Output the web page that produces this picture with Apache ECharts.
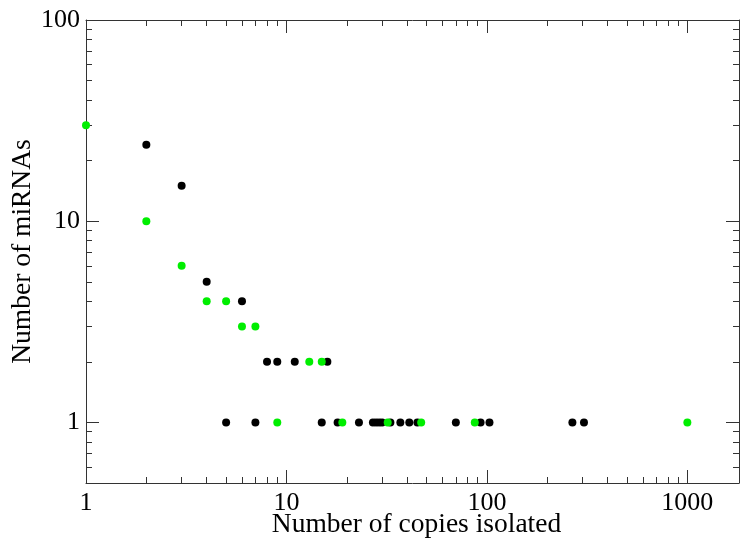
<!DOCTYPE html>
<html>
<head>
<meta charset="utf-8">
<script src="https://cdn.jsdelivr.net/npm/echarts@6/dist/echarts.min.js"></script>
<style>html,body{margin:0;padding:0;background:#fff;}#c{width:740px;height:543px;}</style>
</head>
<body>
<div id="c"></div>
<script>
// Data: (copies isolated, number of miRNAs)
var blackX = [2, 3, 4, 6, 8, 9, 11, 16, 5, 7, 15, 18, 23, 27, 28, 29, 30, 33, 37, 41, 45, 70, 93, 103, 267, 305];
var blackY = [24, 15, 5, 4, 2, 2, 2, 2, 1, 1, 1, 1, 1, 1, 1, 1, 1, 1, 1, 1, 1, 1, 1, 1, 1, 1];
var greenX = [1, 2, 3, 4, 5, 6, 7, 13, 15, 9, 19, 32, 47, 87, 1000];
var greenY = [30, 10, 6, 4, 4, 3, 3, 2, 2, 1, 1, 1, 1, 1, 1];

var xMajor = [1, 10, 100, 1000];
var xMinor = [2, 3, 4, 5, 6, 7, 8, 9, 20, 30, 40, 50, 60, 70, 80, 90, 200, 300, 400, 500, 600, 700, 800, 900];
var yMajor = [1, 10, 100];
var yMinor = [0.6, 0.7, 0.8, 0.9, 2, 3, 4, 5, 6, 7, 8, 9, 20, 30, 40, 50, 60, 70, 80, 90];

var xMin = 1, xMax = 1810, yMin = 0.5, yMax = 100;
var FONT = 'Liberation Serif';
var AX = '#333';

function pairs(xs, ys) { return xs.map(function (x, i) { return [x, ys[i]]; }); }

function xAx(pos, ticks, len, showLine, showLabel) {
  return {
    type: 'log', logBase: 10, min: xMin, max: xMax, position: pos,
    axisLine: { show: showLine, lineStyle: { color: AX, width: 1 } },
    axisTick: { show: true, inside: true, length: len, customValues: ticks, lineStyle: { color: AX, width: 1 } },
    axisLabel: { show: showLabel, customValues: xMajor, margin: 7, color: '#000', fontFamily: FONT, fontSize: 26, formatter: function (v) { return String(Math.round(v)); } },
    splitLine: { show: false }, minorTick: { show: false }
  };
}
function yAx(pos, ticks, len, showLine, showLabel) {
  return {
    type: 'log', logBase: 10, min: yMin, max: yMax, position: pos,
    axisLine: { show: showLine, lineStyle: { color: AX, width: 1 } },
    axisTick: { show: true, inside: true, length: len, customValues: ticks, lineStyle: { color: AX, width: 1 } },
    axisLabel: { show: showLabel, customValues: yMajor, margin: 6, color: '#000', fontFamily: FONT, fontSize: 26, formatter: function (v) { return String(Math.round(v)); } },
    splitLine: { show: false }, minorTick: { show: false }
  };
}

var xa0 = xAx('bottom', xMajor, 13, true, true);
xa0.name = 'Number of copies isolated';
xa0.nameLocation = 'middle';
xa0.nameGap = 28;
xa0.nameMoveOverlap = false;
xa0.nameTextStyle = { fontFamily: FONT, fontSize: 27.5, color: '#000', padding: [0, 0, 0, 8] };
var ya0 = yAx('left', yMajor, 13, true, true);
ya0.name = 'Number of miRNAs';
ya0.nameLocation = 'middle';
ya0.nameGap = 49;
ya0.nameMoveOverlap = false;
ya0.nameTextStyle = { fontFamily: FONT, fontSize: 27.5, color: '#000' };

var chart = echarts.init(document.getElementById('c'), null, { renderer: 'canvas' });
chart.setOption({
  animation: false,
  backgroundColor: '#fff',
  grid: { left: 86, right: 1, top: 20, bottom: 60, containLabel: false, outerBoundsMode: 'none' },
  xAxis: [xa0, xAx('bottom', xMinor, 6, false, false), xAx('top', xMajor, 13, true, false), xAx('top', xMinor, 6, false, false)],
  yAxis: [ya0, yAx('left', yMinor, 6, false, false), yAx('right', yMajor, 13, true, false), yAx('right', yMinor, 6, false, false)],
  series: [
    { type: 'scatter', xAxisIndex: 0, yAxisIndex: 0, data: pairs(blackX, blackY), symbol: 'circle', symbolSize: 8, itemStyle: { color: '#000', opacity: 1 }, clip: false },
    { type: 'scatter', xAxisIndex: 0, yAxisIndex: 0, data: pairs(greenX, greenY), symbol: 'circle', symbolSize: 8, itemStyle: { color: '#00ee00', opacity: 1 }, clip: false }
  ]
});
</script>
</body>
</html>
